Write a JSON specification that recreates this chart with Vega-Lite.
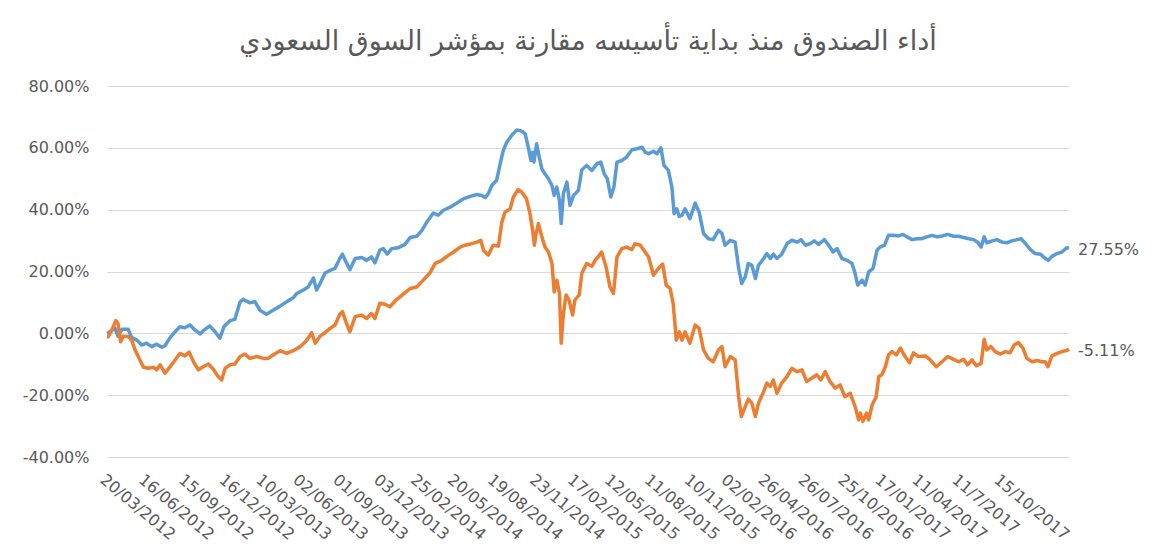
{
"$schema": "https://vega.github.io/schema/vega-lite/v6.json",
"width": 962, "height": 371,
"autosize": {"type": "none"},
"padding": {"left": 107, "top": 86, "right": 94, "bottom": 98},
"background": "white",
"config": {"view": {"stroke": null}},
"title": {"text": "أداء الصندوق منذ بداية تأسيسه مقارنة بمؤشر السوق السعودي", "font": "DejaVu Sans", "fontSize": 27, "fontWeight": "normal", "color": "#595959", "anchor": "middle", "frame": "group", "offset": 22},
"datasets": {
"fund": [
{"date":"2012-03-20","value":0.0},{"date":"2012-03-23","value":0.2},{"date":"2012-04-07","value":1.7},{"date":"2012-04-14","value":-0.9},{"date":"2012-04-23","value":1.3},{"date":"2012-05-07","value":1.3},{"date":"2012-05-15","value":-1.3},{"date":"2012-05-27","value":-2.2},{"date":"2012-06-07","value":-3.8},{"date":"2012-06-18","value":-3.2},{"date":"2012-06-30","value":-4.3},{"date":"2012-07-11","value":-3.5},{"date":"2012-07-23","value":-4.5},{"date":"2012-07-30","value":-4.0},{"date":"2012-08-11","value":-1.3},{"date":"2012-08-22","value":0.5},{"date":"2012-09-02","value":2.1},{"date":"2012-09-13","value":1.8},{"date":"2012-09-25","value":2.7},{"date":"2012-10-06","value":1.1},{"date":"2012-10-18","value":-0.2},{"date":"2012-10-29","value":1.3},{"date":"2012-11-09","value":2.4},{"date":"2012-11-21","value":0.5},{"date":"2012-12-02","value":-1.6},{"date":"2012-12-11","value":2.1},{"date":"2012-12-25","value":4.1},
{"date":"2013-01-05","value":4.5},{"date":"2013-01-17","value":10.2},{"date":"2013-01-24","value":11.0},{"date":"2013-02-08","value":9.9},{"date":"2013-02-20","value":10.2},{"date":"2013-03-03","value":7.5},{"date":"2013-03-18","value":6.2},{"date":"2013-04-02","value":7.5},{"date":"2013-04-18","value":8.8},{"date":"2013-05-03","value":10.2},{"date":"2013-05-18","value":11.5},{"date":"2013-05-26","value":12.9},{"date":"2013-06-10","value":14.0},{"date":"2013-06-21","value":15.0},{"date":"2013-07-03","value":17.9},{"date":"2013-07-10","value":14.0},{"date":"2013-07-18","value":16.1},{"date":"2013-07-29","value":19.4},{"date":"2013-08-10","value":20.4},{"date":"2013-08-21","value":21.0},{"date":"2013-09-01","value":24.2},{"date":"2013-09-07","value":25.6},{"date":"2013-09-15","value":23.1},{"date":"2013-09-24","value":20.6},{"date":"2013-10-06","value":24.2},{"date":"2013-10-21","value":24.5},{"date":"2013-11-01","value":23.6},{"date":"2013-11-12","value":24.7},{"date":"2013-11-20","value":22.8},{"date":"2013-12-01","value":26.9},{"date":"2013-12-09","value":27.4},{"date":"2013-12-18","value":25.6},{"date":"2013-12-28","value":27.4},
{"date":"2014-01-12","value":27.7},{"date":"2014-01-27","value":28.7},{"date":"2014-02-08","value":31.0},{"date":"2014-02-23","value":31.4},{"date":"2014-03-07","value":33.3},{"date":"2014-03-18","value":36.0},{"date":"2014-04-02","value":38.9},{"date":"2014-04-13","value":38.2},{"date":"2014-04-25","value":39.8},{"date":"2014-05-10","value":40.8},{"date":"2014-05-25","value":42.1},{"date":"2014-06-09","value":43.5},{"date":"2014-06-25","value":44.3},{"date":"2014-07-10","value":44.9},{"date":"2014-07-21","value":44.6},{"date":"2014-07-29","value":43.9},{"date":"2014-08-05","value":45.2},{"date":"2014-08-13","value":47.8},{"date":"2014-08-24","value":49.5},{"date":"2014-09-01","value":54.8},{"date":"2014-09-08","value":59.1},{"date":"2014-09-16","value":61.8},{"date":"2014-09-27","value":64.0},{"date":"2014-10-09","value":65.8},{"date":"2014-10-20","value":65.4},{"date":"2014-10-28","value":64.5},{"date":"2014-11-04","value":60.2},{"date":"2014-11-10","value":55.9},{"date":"2014-11-14","value":58.6},{"date":"2014-11-17","value":55.4},{"date":"2014-11-23","value":61.3},{"date":"2014-11-29","value":57.0},{"date":"2014-12-05","value":53.2},{"date":"2014-12-12","value":51.6},{"date":"2014-12-20","value":50.0},{"date":"2014-12-28","value":47.8},
{"date":"2015-01-02","value":44.6},{"date":"2015-01-08","value":47.3},{"date":"2015-01-14","value":43.0},{"date":"2015-01-18","value":35.5},{"date":"2015-01-23","value":45.2},{"date":"2015-01-31","value":48.9},{"date":"2015-02-07","value":41.4},{"date":"2015-02-15","value":44.6},{"date":"2015-02-26","value":46.2},{"date":"2015-03-06","value":52.9},{"date":"2015-03-17","value":54.3},{"date":"2015-03-29","value":52.7},{"date":"2015-04-09","value":54.8},{"date":"2015-04-18","value":55.4},{"date":"2015-04-26","value":51.6},{"date":"2015-05-03","value":50.0},{"date":"2015-05-11","value":44.1},{"date":"2015-05-18","value":47.3},{"date":"2015-05-25","value":55.4},{"date":"2015-06-05","value":55.9},{"date":"2015-06-16","value":57.0},{"date":"2015-06-28","value":59.4},{"date":"2015-07-09","value":59.7},{"date":"2015-07-21","value":60.2},{"date":"2015-07-28","value":58.6},{"date":"2015-08-05","value":58.1},{"date":"2015-08-16","value":58.9},{"date":"2015-08-24","value":58.1},{"date":"2015-09-02","value":60.0},{"date":"2015-09-09","value":54.3},{"date":"2015-09-19","value":52.7},{"date":"2015-09-27","value":47.3},{"date":"2015-10-02","value":38.7},{"date":"2015-10-08","value":40.3},{"date":"2015-10-14","value":37.8},{"date":"2015-10-20","value":38.2},{"date":"2015-10-27","value":40.3},{"date":"2015-11-07","value":37.1},{"date":"2015-11-19","value":42.1},{"date":"2015-11-28","value":39.2},{"date":"2015-12-08","value":32.3},{"date":"2015-12-19","value":30.6},{"date":"2015-12-30","value":30.3},
{"date":"2016-01-11","value":33.3},{"date":"2016-01-19","value":32.3},{"date":"2016-01-26","value":28.5},{"date":"2016-02-07","value":30.1},{"date":"2016-02-18","value":29.5},{"date":"2016-02-26","value":21.0},{"date":"2016-03-04","value":16.1},{"date":"2016-03-12","value":18.3},{"date":"2016-03-19","value":22.6},{"date":"2016-03-27","value":22.0},{"date":"2016-04-04","value":17.7},{"date":"2016-04-11","value":22.0},{"date":"2016-04-23","value":24.2},{"date":"2016-04-30","value":25.8},{"date":"2016-05-08","value":24.2},{"date":"2016-05-15","value":25.6},{"date":"2016-05-23","value":24.2},{"date":"2016-06-03","value":25.6},{"date":"2016-06-15","value":29.0},{"date":"2016-06-26","value":30.1},{"date":"2016-07-08","value":29.5},{"date":"2016-07-17","value":30.3},{"date":"2016-07-27","value":28.5},{"date":"2016-08-07","value":29.0},{"date":"2016-08-16","value":29.9},{"date":"2016-08-26","value":28.8},{"date":"2016-09-08","value":30.3},{"date":"2016-09-18","value":28.5},{"date":"2016-09-28","value":26.3},{"date":"2016-10-07","value":27.4},{"date":"2016-10-18","value":24.2},{"date":"2016-10-30","value":23.6},{"date":"2016-11-10","value":22.6},{"date":"2016-11-17","value":19.4},{"date":"2016-11-23","value":15.6},{"date":"2016-12-03","value":17.2},{"date":"2016-12-10","value":15.6},{"date":"2016-12-18","value":19.9},{"date":"2016-12-28","value":21.0},
{"date":"2017-01-06","value":26.9},{"date":"2017-01-13","value":27.9},{"date":"2017-01-23","value":28.5},{"date":"2017-02-01","value":31.7},{"date":"2017-02-12","value":31.7},{"date":"2017-02-24","value":31.5},{"date":"2017-03-06","value":32.0},{"date":"2017-03-15","value":31.2},{"date":"2017-03-27","value":30.3},{"date":"2017-04-07","value":30.6},{"date":"2017-04-18","value":30.6},{"date":"2017-04-29","value":31.2},{"date":"2017-05-11","value":31.7},{"date":"2017-05-23","value":31.2},{"date":"2017-06-03","value":31.5},{"date":"2017-06-16","value":32.0},{"date":"2017-06-29","value":31.4},{"date":"2017-07-11","value":31.4},{"date":"2017-07-22","value":31.0},{"date":"2017-08-03","value":30.6},{"date":"2017-08-14","value":30.3},{"date":"2017-08-23","value":29.5},{"date":"2017-08-31","value":27.9},{"date":"2017-09-07","value":31.2},{"date":"2017-09-13","value":29.3},{"date":"2017-09-25","value":29.9},{"date":"2017-10-06","value":30.3},{"date":"2017-10-18","value":29.5},{"date":"2017-10-29","value":29.3},{"date":"2017-11-09","value":29.9},{"date":"2017-11-21","value":30.3},{"date":"2017-11-30","value":30.6},{"date":"2017-12-10","value":29.0},{"date":"2017-12-21","value":27.1},
{"date":"2018-01-01","value":25.8},{"date":"2018-01-13","value":25.6},{"date":"2018-01-24","value":24.2},{"date":"2018-01-31","value":23.6},{"date":"2018-02-08","value":24.9},{"date":"2018-02-20","value":25.8},{"date":"2018-03-03","value":26.3},{"date":"2018-03-14","value":27.7},{"date":"2018-03-19","value":27.55}
],
"tasi": [
{"date":"2012-03-20","value":-1.0},{"date":"2012-03-23","value":-1.1},{"date":"2012-03-31","value":1.1},{"date":"2012-04-09","value":4.1},{"date":"2012-04-14","value":3.2},{"date":"2012-04-20","value":-2.7},{"date":"2012-04-26","value":-0.9},{"date":"2012-05-08","value":-1.1},{"date":"2012-05-15","value":-2.2},{"date":"2012-05-23","value":-5.4},{"date":"2012-05-30","value":-7.5},{"date":"2012-06-11","value":-11.0},{"date":"2012-06-22","value":-11.3},{"date":"2012-07-04","value":-11.0},{"date":"2012-07-11","value":-11.8},{"date":"2012-07-19","value":-10.2},{"date":"2012-07-30","value":-12.9},{"date":"2012-08-11","value":-10.8},{"date":"2012-08-22","value":-8.6},{"date":"2012-09-02","value":-6.5},{"date":"2012-09-13","value":-7.3},{"date":"2012-09-23","value":-6.1},{"date":"2012-10-03","value":-9.2},{"date":"2012-10-14","value":-11.8},{"date":"2012-10-25","value":-10.8},{"date":"2012-11-06","value":-9.9},{"date":"2012-11-17","value":-11.6},{"date":"2012-11-28","value":-14.0},{"date":"2012-12-06","value":-15.1},{"date":"2012-12-14","value":-11.3},{"date":"2012-12-25","value":-10.2},
{"date":"2013-01-05","value":-9.9},{"date":"2013-01-17","value":-7.5},{"date":"2013-01-28","value":-6.7},{"date":"2013-02-08","value":-8.1},{"date":"2013-02-24","value":-7.5},{"date":"2013-03-11","value":-8.1},{"date":"2013-03-22","value":-8.1},{"date":"2013-04-02","value":-7.0},{"date":"2013-04-18","value":-5.6},{"date":"2013-05-03","value":-6.5},{"date":"2013-05-18","value":-5.6},{"date":"2013-06-03","value":-4.3},{"date":"2013-06-18","value":-2.2},{"date":"2013-06-29","value":0.2},{"date":"2013-07-07","value":-3.2},{"date":"2013-07-18","value":-0.9},{"date":"2013-07-29","value":0.2},{"date":"2013-08-10","value":1.6},{"date":"2013-08-21","value":2.7},{"date":"2013-09-01","value":6.2},{"date":"2013-09-07","value":7.0},{"date":"2013-09-15","value":3.7},{"date":"2013-09-24","value":0.5},{"date":"2013-10-06","value":5.4},{"date":"2013-10-21","value":5.9},{"date":"2013-11-01","value":4.8},{"date":"2013-11-12","value":6.4},{"date":"2013-11-20","value":4.8},{"date":"2013-12-01","value":9.7},{"date":"2013-12-13","value":9.4},{"date":"2013-12-24","value":8.6},
{"date":"2014-01-05","value":10.5},{"date":"2014-01-16","value":11.8},{"date":"2014-01-27","value":13.1},{"date":"2014-02-08","value":14.5},{"date":"2014-02-23","value":15.0},{"date":"2014-03-10","value":17.2},{"date":"2014-03-25","value":19.5},{"date":"2014-04-06","value":22.6},{"date":"2014-04-21","value":23.6},{"date":"2014-05-03","value":24.9},{"date":"2014-05-18","value":26.3},{"date":"2014-06-02","value":27.9},{"date":"2014-06-13","value":28.5},{"date":"2014-06-28","value":29.0},{"date":"2014-07-10","value":29.5},{"date":"2014-07-19","value":30.1},{"date":"2014-07-25","value":26.9},{"date":"2014-08-05","value":25.3},{"date":"2014-08-16","value":28.5},{"date":"2014-08-28","value":28.2},{"date":"2014-09-05","value":36.0},{"date":"2014-09-12","value":39.2},{"date":"2014-09-24","value":40.3},{"date":"2014-10-01","value":44.1},{"date":"2014-10-12","value":46.5},{"date":"2014-10-20","value":45.7},{"date":"2014-10-31","value":43.5},{"date":"2014-11-08","value":38.7},{"date":"2014-11-14","value":33.3},{"date":"2014-11-18","value":28.5},{"date":"2014-11-22","value":32.3},{"date":"2014-11-27","value":35.5},{"date":"2014-12-05","value":31.2},{"date":"2014-12-12","value":27.9},{"date":"2014-12-20","value":26.3},{"date":"2014-12-28","value":22.6},
{"date":"2015-01-02","value":13.4},{"date":"2015-01-08","value":17.2},{"date":"2015-01-14","value":12.9},{"date":"2015-01-18","value":-3.2},{"date":"2015-01-23","value":6.4},{"date":"2015-01-29","value":12.4},{"date":"2015-02-05","value":10.7},{"date":"2015-02-13","value":5.9},{"date":"2015-02-18","value":10.7},{"date":"2015-02-28","value":12.4},{"date":"2015-03-06","value":19.4},{"date":"2015-03-17","value":22.6},{"date":"2015-03-29","value":21.7},{"date":"2015-04-05","value":23.6},{"date":"2015-04-12","value":24.7},{"date":"2015-04-20","value":26.3},{"date":"2015-04-30","value":21.5},{"date":"2015-05-09","value":15.0},{"date":"2015-05-17","value":12.9},{"date":"2015-05-25","value":24.7},{"date":"2015-06-05","value":27.4},{"date":"2015-06-16","value":27.9},{"date":"2015-06-28","value":27.1},{"date":"2015-07-05","value":29.0},{"date":"2015-07-17","value":28.5},{"date":"2015-07-28","value":26.3},{"date":"2015-08-05","value":24.7},{"date":"2015-08-16","value":18.8},{"date":"2015-08-27","value":21.0},{"date":"2015-09-06","value":22.4},{"date":"2015-09-14","value":15.6},{"date":"2015-09-23","value":14.5},{"date":"2015-09-30","value":9.5},{"date":"2015-10-07","value":-2.2},{"date":"2015-10-14","value":0.5},{"date":"2015-10-20","value":-2.2},{"date":"2015-10-27","value":0.5},{"date":"2015-11-07","value":-3.2},{"date":"2015-11-19","value":2.7},{"date":"2015-11-28","value":1.6},{"date":"2015-12-08","value":-5.4},{"date":"2015-12-19","value":-8.1},{"date":"2015-12-30","value":-9.2},
{"date":"2016-01-11","value":-5.4},{"date":"2016-01-19","value":-4.3},{"date":"2016-01-26","value":-10.8},{"date":"2016-02-07","value":-7.5},{"date":"2016-02-18","value":-8.6},{"date":"2016-02-26","value":-20.5},{"date":"2016-03-03","value":-26.9},{"date":"2016-03-12","value":-23.7},{"date":"2016-03-19","value":-21.3},{"date":"2016-03-27","value":-22.6},{"date":"2016-04-04","value":-26.9},{"date":"2016-04-11","value":-22.6},{"date":"2016-04-23","value":-18.8},{"date":"2016-04-30","value":-16.1},{"date":"2016-05-08","value":-17.2},{"date":"2016-05-15","value":-15.1},{"date":"2016-05-23","value":-19.4},{"date":"2016-06-03","value":-16.1},{"date":"2016-06-15","value":-14.0},{"date":"2016-06-26","value":-11.3},{"date":"2016-07-08","value":-12.4},{"date":"2016-07-19","value":-11.8},{"date":"2016-07-30","value":-15.6},{"date":"2016-08-10","value":-14.5},{"date":"2016-08-22","value":-13.4},{"date":"2016-08-31","value":-15.1},{"date":"2016-09-10","value":-12.4},{"date":"2016-09-21","value":-15.6},{"date":"2016-10-03","value":-17.7},{"date":"2016-10-14","value":-16.7},{"date":"2016-10-25","value":-20.5},{"date":"2016-11-06","value":-19.4},{"date":"2016-11-17","value":-23.7},{"date":"2016-11-25","value":-28.0},{"date":"2016-11-29","value":-25.8},{"date":"2016-12-05","value":-28.5},{"date":"2016-12-13","value":-25.8},{"date":"2016-12-18","value":-28.0},{"date":"2016-12-26","value":-23.1},
{"date":"2017-01-04","value":-20.5},{"date":"2017-01-10","value":-14.0},{"date":"2017-01-17","value":-13.4},{"date":"2017-01-25","value":-10.8},{"date":"2017-02-01","value":-7.0},{"date":"2017-02-09","value":-5.9},{"date":"2017-02-19","value":-7.0},{"date":"2017-02-28","value":-4.8},{"date":"2017-03-11","value":-7.5},{"date":"2017-03-21","value":-9.5},{"date":"2017-03-30","value":-6.3},{"date":"2017-04-10","value":-7.5},{"date":"2017-04-26","value":-7.3},{"date":"2017-05-07","value":-8.6},{"date":"2017-05-21","value":-10.8},{"date":"2017-06-03","value":-9.2},{"date":"2017-06-16","value":-7.5},{"date":"2017-06-29","value":-8.4},{"date":"2017-07-11","value":-9.2},{"date":"2017-07-22","value":-8.4},{"date":"2017-07-31","value":-10.2},{"date":"2017-08-10","value":-8.6},{"date":"2017-08-20","value":-10.5},{"date":"2017-08-31","value":-9.7},{"date":"2017-09-07","value":-1.9},{"date":"2017-09-13","value":-5.4},{"date":"2017-09-22","value":-4.3},{"date":"2017-10-02","value":-5.9},{"date":"2017-10-14","value":-6.7},{"date":"2017-10-25","value":-5.9},{"date":"2017-11-05","value":-6.3},{"date":"2017-11-14","value":-3.8},{"date":"2017-11-24","value":-3.0},{"date":"2017-12-04","value":-4.8},{"date":"2017-12-13","value":-8.1},{"date":"2017-12-25","value":-9.2},
{"date":"2018-01-05","value":-8.8},{"date":"2018-01-16","value":-9.2},{"date":"2018-01-24","value":-9.2},{"date":"2018-01-30","value":-10.8},{"date":"2018-02-08","value":-7.3},{"date":"2018-02-20","value":-6.5},{"date":"2018-03-03","value":-5.9},{"date":"2018-03-13","value":-5.6},{"date":"2018-03-19","value":-5.11}
]
},
"encoding": {
"x": {"field": "date", "type": "temporal",
 "scale": {"type": "utc", "domain": [{"year": 2012, "month": 3, "date": 20, "utc": true}, {"year": 2018, "month": 3, "date": 19, "utc": true}]},
 "axis": {"title": null, "grid": false, "domain": false, "ticks": false,
  "values": [
   {"year":2012,"month":3,"date":20,"utc":true},{"year":2012,"month":6,"date":16,"utc":true},{"year":2012,"month":9,"date":15,"utc":true},{"year":2012,"month":12,"date":16,"utc":true},
   {"year":2013,"month":3,"date":10,"utc":true},{"year":2013,"month":6,"date":2,"utc":true},{"year":2013,"month":9,"date":1,"utc":true},{"year":2013,"month":12,"date":3,"utc":true},
   {"year":2014,"month":2,"date":25,"utc":true},{"year":2014,"month":5,"date":20,"utc":true},{"year":2014,"month":8,"date":19,"utc":true},{"year":2014,"month":11,"date":23,"utc":true},
   {"year":2015,"month":2,"date":17,"utc":true},{"year":2015,"month":5,"date":12,"utc":true},{"year":2015,"month":8,"date":11,"utc":true},{"year":2015,"month":11,"date":10,"utc":true},
   {"year":2016,"month":2,"date":2,"utc":true},{"year":2016,"month":4,"date":26,"utc":true},{"year":2016,"month":7,"date":26,"utc":true},{"year":2016,"month":10,"date":25,"utc":true},
   {"year":2017,"month":1,"date":17,"utc":true},{"year":2017,"month":4,"date":11,"utc":true},{"year":2017,"month":7,"date":11,"utc":true},{"year":2017,"month":10,"date":15,"utc":true}],
  "labelExpr": "utcFormat(datum.value, '%d/%m/%Y') == '11/07/2017' ? '11/7/2017' : utcFormat(datum.value, '%d/%m/%Y')",
  "labelAngle": 40, "labelAlign": "left", "labelBaseline": "top", "labelPadding": 14,
  "labelOverlap": false, "labelBound": false, "labelFlush": false,
  "labelFont": "DejaVu Sans", "labelFontSize": 16, "labelColor": "#595959"}},
"y": {"field": "value", "type": "quantitative",
 "scale": {"domain": [-40, 80], "nice": false, "zero": false},
 "axis": {"title": null, "values": [-40, -20, 0, 20, 40, 60, 80], "labelExpr": "(datum.value < 0 ? '-' : '') + format(abs(datum.value), '.2f') + '%'",
  "grid": true, "gridColor": "#d9d9d9", "gridWidth": 1, "domain": false, "ticks": false, "labelPadding": 18,
  "labelFont": "DejaVu Sans", "labelFontSize": 16, "labelColor": "#595959"}}
},
"layer": [
{"data": {"name": "fund"}, "mark": {"type": "line", "color": "#5B9BD5", "strokeWidth": 3.5, "strokeJoin": "round"}},
{"data": {"name": "tasi"}, "mark": {"type": "line", "color": "#ED7D31", "strokeWidth": 3.5, "strokeJoin": "round"}},
{"data": {"name": "fund"},
 "transform": [{"window": [{"op": "row_number", "as": "r"}], "sort": [{"field": "date", "order": "descending"}]}, {"filter": "datum.r == 1"}, {"calculate": "(datum.value < 0 ? '-' : '') + format(abs(datum.value), '.2f') + '%'", "as": "label"}],
 "mark": {"type": "text", "align": "left", "baseline": "middle", "dx": 9, "dy": 2, "font": "DejaVu Sans", "fontSize": 16, "color": "#595959"},
 "encoding": {"text": {"field": "label"}}},
{"data": {"name": "tasi"},
 "transform": [{"window": [{"op": "row_number", "as": "r"}], "sort": [{"field": "date", "order": "descending"}]}, {"filter": "datum.r == 1"}, {"calculate": "(datum.value < 0 ? '-' : '') + format(abs(datum.value), '.2f') + '%'", "as": "label"}],
 "mark": {"type": "text", "align": "left", "baseline": "middle", "dx": 9, "dy": 2, "font": "DejaVu Sans", "fontSize": 16, "color": "#595959"},
 "encoding": {"text": {"field": "label"}}}
]
}
